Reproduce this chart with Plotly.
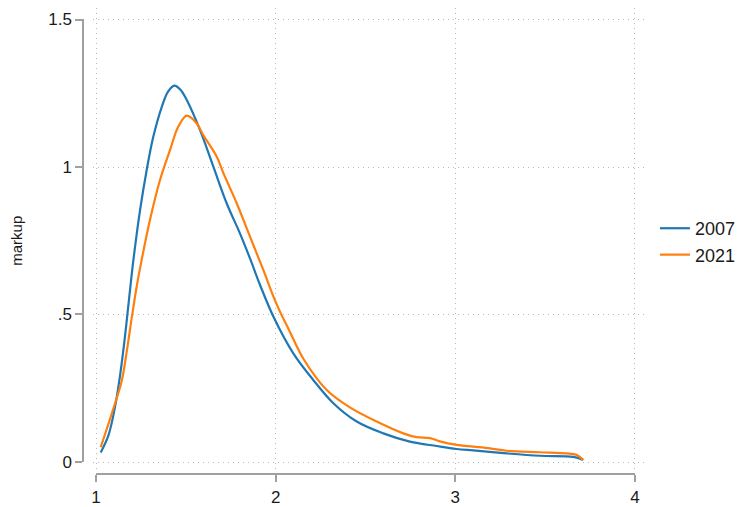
import plotly.graph_objects as go

# densidade do markup (leitura aproximada do gráfico)
x_2007 = [1.026, 1.069, 1.106, 1.134, 1.161, 1.185, 1.208, 1.245, 1.282, 1.319,
          1.366, 1.400, 1.436, 1.470, 1.505, 1.579, 1.653, 1.727, 1.801, 1.857,
          1.913, 1.987, 2.098, 2.209, 2.321, 2.451, 2.599, 2.747, 2.896, 3.007,
          3.100, 3.286, 3.471, 3.656, 3.712]
y_2007 = [0.032, 0.090, 0.188, 0.295, 0.425, 0.560, 0.685, 0.854, 0.990, 1.103,
          1.204, 1.255, 1.276, 1.262, 1.227, 1.125, 1.001, 0.877, 0.775, 0.690,
          0.600, 0.493, 0.368, 0.278, 0.199, 0.137, 0.097, 0.069, 0.054, 0.044,
          0.039, 0.029, 0.021, 0.017, 0.007]

x_2021 = [1.026, 1.106, 1.143, 1.171, 1.199, 1.226, 1.254, 1.300, 1.356, 1.412,
          1.458, 1.505, 1.560, 1.597, 1.672, 1.709, 1.783, 1.857, 1.931,
          2.005, 2.080, 2.154, 2.284, 2.413, 2.562, 2.710, 2.784, 2.859, 2.914,
          3.007, 3.100, 3.193, 3.286, 3.471, 3.619, 3.675, 3.712]
y_2021 = [0.050, 0.199, 0.275, 0.375, 0.490, 0.594, 0.685, 0.820, 0.956, 1.058,
          1.137, 1.174, 1.148, 1.108, 1.035, 0.979, 0.877, 0.764, 0.651,
          0.535, 0.440, 0.350, 0.244, 0.185, 0.137, 0.097, 0.084, 0.081, 0.070,
          0.058, 0.052, 0.046, 0.038, 0.033, 0.029, 0.024, 0.007]

xticks = [1, 2, 3, 4]
yticks = [0, 0.5, 1, 1.5]
yticklabels = ['0', '.5', '1', '1.5']

FONTE = 'Liberation Sans, Arial, sans-serif'
CINZA = '#a0a0a0'
GRADE = '#b8b8b8'
CORES = {'2007': '#1f77b4', '2021': '#ff7f0e'}

fig = go.Figure()
for ano, xs, ys in [('2007', x_2007, y_2007), ('2021', x_2021, y_2021)]:
    # curva visível nos eixos deslocados (x2/y2, intervalo [1,4] x [0,1.5])
    fig.add_trace(go.Scatter(x=xs, y=ys, mode='lines', name=ano, xaxis='x2', yaxis='y2',
                             line=dict(color=CORES[ano], width=2.2, shape='spline', smoothing=1)))
    # cópia invisível para que os eixos da grade sejam desenhados
    fig.add_trace(go.Scatter(x=xs, y=ys, mode='lines', showlegend=False, hoverinfo='skip',
                             line=dict(color='rgba(0,0,0,0)', width=0)))

# a página tem 8px de margem no body, por isso a figura é 8px menor
fig.update_layout(
    width=736, height=499,
    margin=dict(l=0, r=0, t=0, b=0, pad=0),
    paper_bgcolor='white', plot_bgcolor='rgba(0,0,0,0)',
    font=dict(family=FONTE, size=16, color='#1a1a1a'),
    # eixos principais: só a grade pontilhada
    xaxis=dict(domain=[0.1155, 0.8682], range=[0.9833, 4.0668],
               tickvals=xticks, showticklabels=False, ticks='',
               showgrid=True, gridcolor=GRADE, griddash='1px,4px', gridwidth=1,
               zeroline=False, showline=False, anchor='y', automargin=False),
    yaxis=dict(domain=[0.0741, 1.0], range=[-0.0271, 1.539],
               tickvals=yticks, showticklabels=False, ticks='',
               showgrid=True, gridcolor=GRADE, griddash='1px,4px', gridwidth=1,
               zeroline=False, showline=False, anchor='x', automargin=False),
    # eixos deslocados no estilo Stata
    xaxis2=dict(domain=[0.1196, 0.8519], range=[0.9999, 4.0001], anchor='free', position=0.0661,
                tickvals=xticks, ticks='outside', ticklen=7, tickwidth=1.5,
                tickcolor=CINZA, showline=True, linecolor=CINZA, linewidth=1.5, showgrid=False,
                zeroline=False, ticklabelstandoff=1, tickfont=dict(size=17), automargin=False),
    yaxis2=dict(domain=[0.0902, 0.9770], range=[-0.0001, 1.5001], anchor='free', position=0.1019,
                tickvals=yticks, ticktext=yticklabels, ticks='outside', ticklen=7,
                tickwidth=1.5, tickcolor=CINZA, showline=True, linecolor=CINZA, linewidth=1.5,
                showgrid=False, zeroline=False, tickfont=dict(size=17), automargin=False,
                title=dict(text='markup', font=dict(size=15), standoff=27)),
    legend=dict(x=0.879, y=0.532, xanchor='left', yanchor='middle',
                font=dict(size=18), bgcolor='rgba(0,0,0,0)'),
    showlegend=True,
)

fig.write_html("out.html")
